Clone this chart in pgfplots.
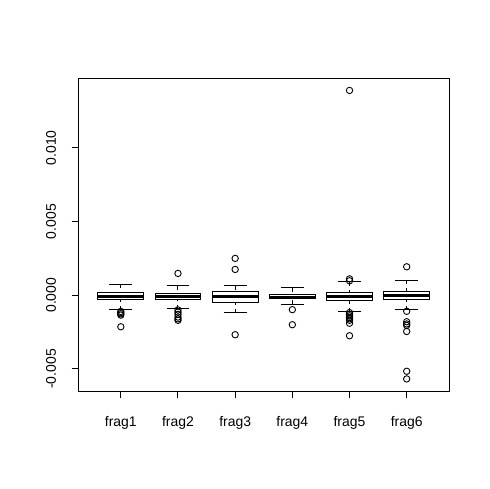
\documentclass[border=0pt]{standalone}
\usepackage{fontspec}
\setmainfont{Liberation Sans}
\usepackage{pgfplots}
\pgfplotsset{compat=1.18}
\usepgfplotslibrary{statistics}
\begin{document}
\begin{tikzpicture}
\useasboundingbox (0bp,0bp) rectangle (490bp,489bp);
% values in units of 1e-3
\begin{axis}[
  at={(78.5bp,98bp)}, anchor=south west,
  scale only axis, width=370.5bp, height=312.5bp,
  xmin=0.26, xmax=6.74, ymin=-6.5, ymax=14.71,
  xtick={1,2,3,4,5,6},
  xticklabels={frag1,frag2,frag3,frag4,frag5,frag6},
  ytick={-5,0,5,10},
  yticklabels={-0.005,0.000,0.005,0.010},
  tick pos=left, tick align=outside, major tick length=7bp,
  axis line style={line width=1bp},
  every tick/.style={black, line width=1bp},
  tick label style={font=\fontsize{14}{16}\selectfont},
  xticklabel style={yshift=-15bp},
  yticklabel style={rotate=90, anchor=south, yshift=12bp},
  boxplot/draw direction=y,
  boxplot/every box/.style={line width=1bp},
  boxplot/every median/.style={line width=3bp},
  boxplot/every whisker/.style={line width=1bp},
  boxplot/box extend=0.8,
  boxplot/whisker extend=0.4,
  boxplot/draw/lower whisker/.code={%
    \draw[/pgfplots/boxplot/every whisker/.try, dash pattern=on 4bp off 4bp]
      (boxplot box cs:\pgfplotsboxplotvalue{lower whisker},0.5)
      -- (boxplot box cs:\pgfplotsboxplotvalue{lower quartile},0.5);
    \draw[/pgfplots/boxplot/every whisker/.try]
      (boxplot whisker cs:\pgfplotsboxplotvalue{lower whisker},0)
      -- (boxplot whisker cs:\pgfplotsboxplotvalue{lower whisker},1);
  },
  boxplot/draw/upper whisker/.code={%
    \draw[/pgfplots/boxplot/every whisker/.try, dash pattern=on 4bp off 4bp]
      (boxplot box cs:\pgfplotsboxplotvalue{upper whisker},0.5)
      -- (boxplot box cs:\pgfplotsboxplotvalue{upper quartile},0.5);
    \draw[/pgfplots/boxplot/every whisker/.try]
      (boxplot whisker cs:\pgfplotsboxplotvalue{upper whisker},0)
      -- (boxplot whisker cs:\pgfplotsboxplotvalue{upper whisker},1);
  },
]
\addplot[black, mark=o, mark size=3.2bp, mark options={line width=0.9bp, solid},
  boxplot prepared={draw position=1, lower whisker=-0.98, lower quartile=-0.3,
    median=-0.07, upper quartile=0.18, upper whisker=0.73}]
  coordinates {(0,-1.1) (0,-1.18) (0,-1.26) (0,-1.35) (0,-2.14)};
\addplot[black, mark=o, mark size=3.2bp, mark options={line width=0.9bp, solid},
  boxplot prepared={draw position=2, lower whisker=-0.91, lower quartile=-0.3,
    median=-0.07, upper quartile=0.12, upper whisker=0.66}]
  coordinates {(0,1.48) (0,-1.0) (0,-1.15) (0,-1.3) (0,-1.48) (0,-1.6) (0,-1.7)};
\addplot[black, mark=o, mark size=3.2bp, mark options={line width=0.9bp, solid},
  boxplot prepared={draw position=3, lower whisker=-1.18, lower quartile=-0.5,
    median=-0.1, upper quartile=0.25, upper whisker=0.66}]
  coordinates {(0,2.5) (0,1.75) (0,-2.68)};
\addplot[black, mark=o, mark size=3.2bp, mark options={line width=0.9bp, solid},
  boxplot prepared={draw position=4, lower whisker=-0.61, lower quartile=-0.25,
    median=-0.14, upper quartile=0.05, upper whisker=0.52}]
  coordinates {(0,-0.98) (0,-2.0)};
\addplot[black, mark=o, mark size=3.2bp, mark options={line width=0.9bp, solid},
  boxplot prepared={draw position=5, lower whisker=-1.11, lower quartile=-0.36,
    median=-0.1, upper quartile=0.18, upper whisker=0.93}]
  coordinates {(0,13.9) (0,1.11) (0,0.98) (0,-1.18) (0,-1.3) (0,-1.4)
    (0,-1.5) (0,-1.6) (0,-1.7) (0,-1.9) (0,-2.75)};
\addplot[black, mark=o, mark size=3.2bp, mark options={line width=0.9bp, solid},
  boxplot prepared={draw position=6, lower whisker=-0.98, lower quartile=-0.3,
    median=0.0, upper quartile=0.25, upper whisker=1.0}]
  coordinates {(0,1.93) (0,-1.09) (0,-1.8) (0,-1.95) (0,-2.05)
    (0,-2.46) (0,-5.16) (0,-5.68)};
\end{axis}
\end{tikzpicture}
\end{document}
